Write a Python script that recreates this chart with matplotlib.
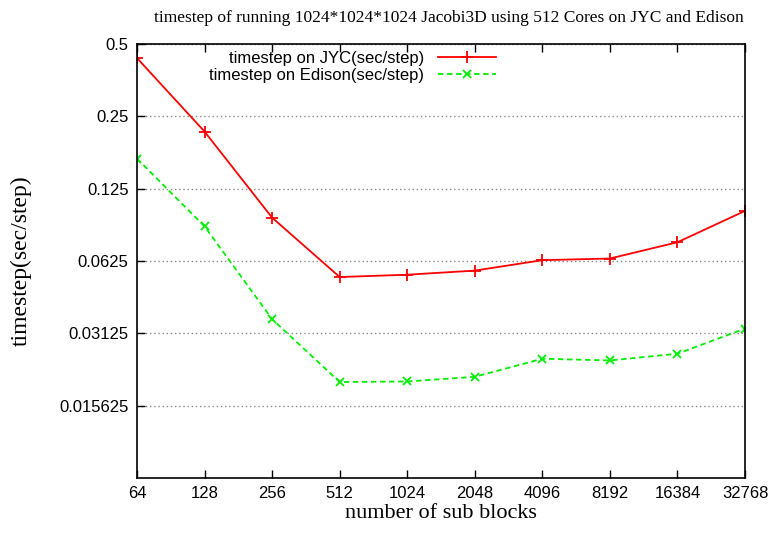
import matplotlib.pyplot as plt
from matplotlib.ticker import FixedLocator, NullLocator

blocks = [64, 128, 256, 512, 1024, 2048, 4096, 8192, 16384, 32768]
jyc = [0.437, 0.216, 0.0947, 0.0536, 0.0548, 0.057, 0.063, 0.064, 0.0748, 0.101]
edison = [0.1667, 0.0871, 0.0358, 0.0196, 0.0197, 0.0206, 0.0245, 0.0241, 0.0257, 0.0327]
ytick_vals = [0.015625, 0.03125, 0.0625, 0.125, 0.25, 0.5]
ytick_labels = ["0.015625", "0.03125", "0.0625", "0.125", "0.25", "0.5"]


def graph_plot():
    fig = plt.figure(figsize=(7.74, 5.34), dpi=100)
    ax = fig.add_axes([137 / 774, 1 - 478 / 534, (745 - 137) / 774, (478 - 44) / 534])

    ax.plot(blocks, jyc, color="red", lw=1.3, marker="+", ms=8, mew=1.3,
            label="timestep on JYC(sec/step)")
    ax.plot(blocks, edison, color="#00ee00", lw=1.3, ls=(0, (3, 2)), marker="x", ms=6, mew=1.3,
            label="timestep on Edison(sec/step)")

    ax.set_xscale("log", base=2)
    ax.set_yscale("log", base=2)
    ax.set_xlim(64, 32768)
    ax.set_ylim(0.0078125, 0.5)

    ax.xaxis.set_major_locator(FixedLocator(blocks))
    ax.set_xticklabels([str(b) for b in blocks], family="Liberation Sans", fontsize=12)
    ax.xaxis.set_minor_locator(NullLocator())
    ax.yaxis.set_major_locator(FixedLocator(ytick_vals))
    ax.set_yticklabels(ytick_labels, family="Liberation Sans", fontsize=12)
    ax.yaxis.set_minor_locator(NullLocator())
    ax.tick_params(direction="in", length=6, width=1, pad=6)
    ax.tick_params(axis="y", right=False)
    ax.tick_params(axis="x", top=True)

    ax.yaxis.grid(True, color="#888888", ls=(0, (1, 2)), lw=1)
    for s in ax.spines.values():
        s.set_linewidth(1.2)

    ax.set_xlabel("number of sub blocks", family="Liberation Serif", fontsize=16, labelpad=2)
    ax.set_ylabel("timestep(sec/step)", family="Liberation Serif", fontsize=17, labelpad=20)
    fig.text(0.58, 1 - 18 / 534, "timestep of running 1024*1024*1024 Jacobi3D using 512 Cores on JYC and Edison",
             family="Liberation Serif", fontsize=12.5, ha="center", va="center")

    leg = ax.legend(loc="upper left", bbox_to_anchor=(0.1, 1.01), frameon=False,
                    prop={"family": "Liberation Sans", "size": 12}, markerfirst=False,
                    handlelength=3.5, labelspacing=0.1, borderaxespad=0.3)
    for t in leg.get_texts():
        t.set_ha("right")

    fig.savefig("out.png", dpi=100)


def main():
    graph_plot()


if __name__ == "__main__":
    main()
